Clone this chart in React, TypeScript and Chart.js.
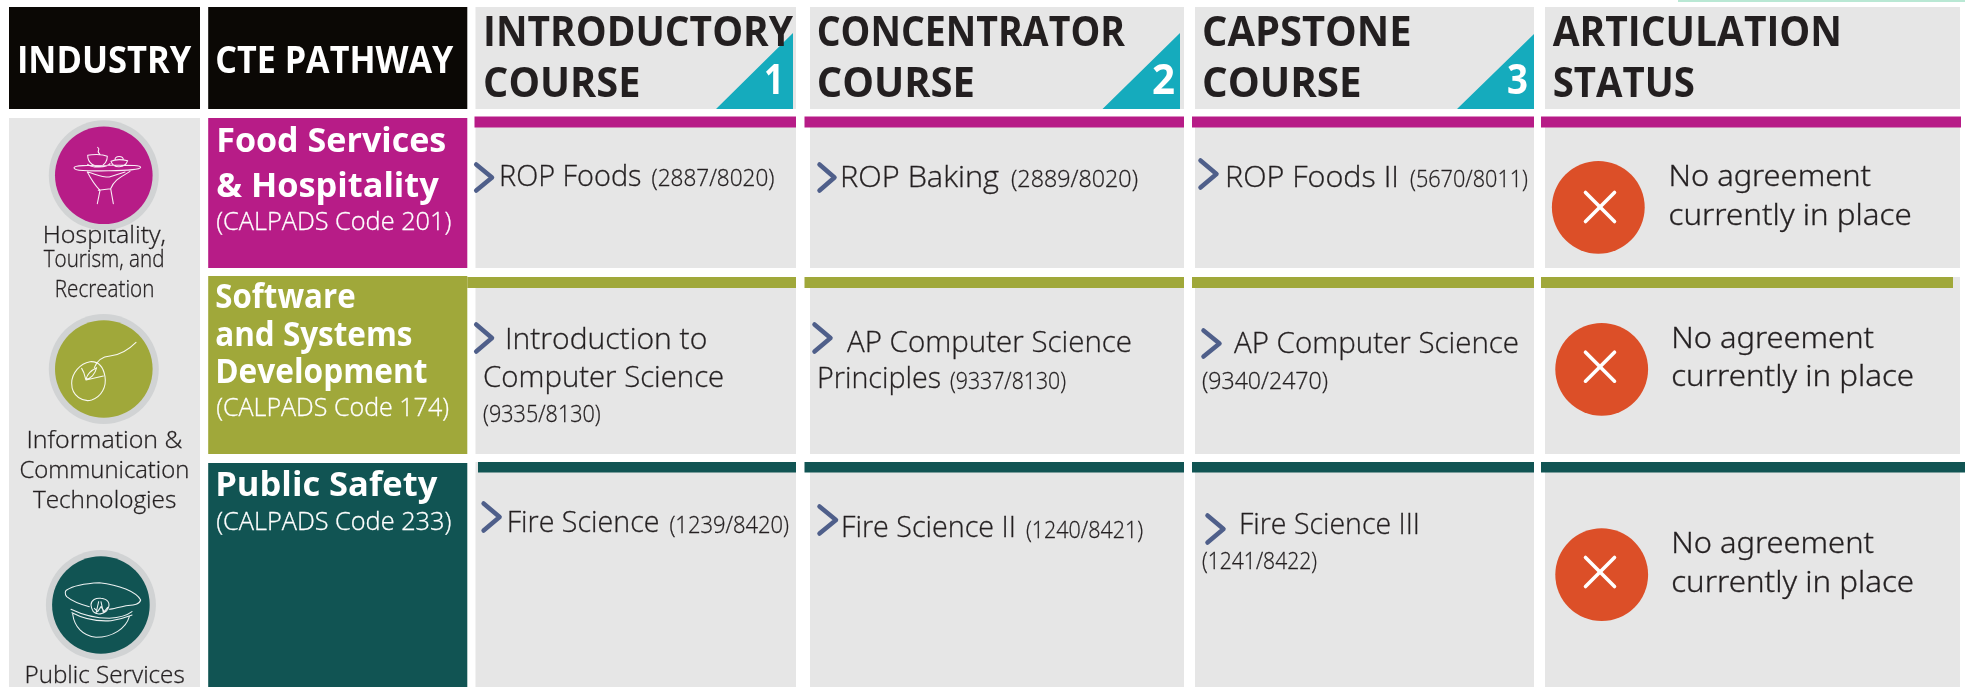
import React, { useEffect, useRef } from "react";
import { Chart, registerables } from "chart.js";

Chart.register(...registerables);

// ---------- content ----------
const headerSolid = ["INDUSTRY", "CTE PATHWAY"];
const headerCourse = [
  ["INTRODUCTORY", "COURSE"],
  ["CONCENTRATOR", "COURSE"],
  ["CAPSTONE", "COURSE"],
  ["ARTICULATION", "STATUS"],
];
const stepNumbers = ["1", "2", "3"];
const industries = [
  ["Hospitality,", "Tourism, and", "Recreation"],
  ["Information &", "Communication", "Technologies"],
  ["Public Services"],
];
const pathwayNames = [
  ["Food Services", "& Hospitality"],
  ["Software", "and Systems", "Development"],
  ["Public Safety"],
];
const pathwayCodes = ["(CALPADS Code 201)", "(CALPADS Code 174)", "(CALPADS Code 233)"];
const courseNames = [
  ["ROP Foods", "ROP Baking", "ROP Foods II"],
  ["Introduction to", "Computer Science", "AP Computer Science", "Principles", "AP Computer Science"],
  ["Fire Science", "Fire Science II", "Fire Science III"],
];
const courseCodes = [
  ["(2887/8020)", "(2889/8020)", "(5670/8011)"],
  ["(9335/8130)", "(9337/8130)", "(9340/2470)"],
  ["(1239/8420)", "(1240/8421)", "(1241/8422)"],
];
const statusLines = ["No agreement", "currently in place"];

// ---------- colours ----------
const GRAY = "#e6e6e6";
const BLACK = "#0b0805";
const INK = "#231f20";
const TEAL = "#15abbd";
const ORANGE = "#dc4f28";
const CHEVRON = "#4f5f8a";
const RING = "#d1d3d4";
const rowColors = ["#b71c87", "#a0a83a", "#115453"];

// ---------- layout ----------
const W = 1965;
const H = 687;
const headerY = [7, 109];
const colGray = [[475.5, 796], [810, 1184], [1195, 1534], [1545, 1960]];
const colBarX = [
  [[474.5, 796], [804.5, 1184], [1192, 1534], [1541, 1961]],
  [[467.3, 796], [804.5, 1184], [1192, 1534], [1541, 1953]],
  [[478, 796], [804.5, 1184], [1192, 1534], [1541, 1965]],
];
const rowGrayY = [[118, 268], [277, 454], [462, 687]];
const rowBarY = [[116.5, 127.5], [277, 288], [462, 472.5]];
const pathwayY = [[118, 268], [276, 454], [463, 687]];
const triangles = [[716, 793, 33], [1102.5, 1180, 33], [1457, 1534, 34]];
const chevrons = [
  [476.2, 492, 164.5, 190.5], [819.5, 834.5, 164.5, 190.5], [1200.5, 1216.5, 160.5, 187.5],
  [476.2, 492, 324.5, 351.5], [814.5, 830.5, 324.5, 351.5], [1203.5, 1219.5, 330.5, 356.5],
  [483.6, 499.6, 503.5, 530.5], [819.5, 836, 506.5, 533.5], [1207.5, 1223.5, 515.5, 542.5],
];
const statusCircles = [[1598.3, 207.3, 1600, 207], [1601.7, 369.3, 1600, 366.7], [1601.7, 574.7, 1600, 572]];
const industryCircles = [[103.8, 175.3], [103.8, 369], [100.9, 605]];

type P = { x: number; y: number };
const pts = (...a: number[][]): P[] => a.map(([x, y]) => ({ x, y }));
const rect = (x0: number, x1: number, y0: number, y1: number) =>
  pts([x0, y0], [x1, y0], [x1, y1], [x0, y1], [x0, y0]);

function buildDatasets() {
  const base = { showLine: true, pointRadius: 0, borderWidth: 0, tension: 0, clip: false as any };
  const poly = (data: P[], color: string) => ({
    ...base, data, backgroundColor: color, borderColor: color, fill: "shape",
  });
  const stroke = (data: P[], color: string, w: number) => ({
    ...base, data, borderColor: color, backgroundColor: color, borderWidth: w, fill: false,
    borderCapStyle: "round", borderJoinStyle: "round",
  });
  const dot = (x: number, y: number, r: number, color: string) => ({
    ...base, showLine: false, data: [{ x, y }], pointRadius: r, pointBackgroundColor: color,
    pointBorderWidth: 0, fill: false,
  });

  const ds: any[] = [];
  ds.push(poly(rect(1678, 1965, 0, 2), "#b9e8d4"));
  // headers
  ds.push(poly(rect(9, 200, headerY[0], headerY[1]), BLACK));
  ds.push(poly(rect(208.2, 467.3, headerY[0], headerY[1]), BLACK));
  colGray.forEach(([a, b]) => ds.push(poly(rect(a, b, headerY[0], headerY[1]), GRAY)));
  triangles.forEach(([a, b, top]) =>
    ds.push(poly(pts([a, headerY[1]], [b, top], [b, headerY[1]], [a, headerY[1]]), TEAL)));
  // industry column: its labels are painted right after it, below the rings
  ds.push({ ...poly(rect(9, 200, 118, 687), GRAY), industryLayer: true });
  // body rows
  rowGrayY.forEach(([y0, y1], r) => {
    ds.push(poly(rect(208.2, 467.3, pathwayY[r][0], pathwayY[r][1]), rowColors[r]));
    colGray.forEach(([a, b]) => ds.push(poly(rect(a, b, y0, y1), GRAY)));
  });
  rowBarY.forEach(([y0, y1], r) => {
    colBarX[r].forEach(([a, b]) => ds.push(poly(rect(a, b, y0, y1), rowColors[r])));
  });
  chevrons.forEach(([x0, x1, y0, y1]) =>
    ds.push(stroke(pts([x0, y0], [x1, (y0 + y1) / 2], [x0, y1]), CHEVRON, 4.5)));
  industryCircles.forEach(([x, y], r) => {
    ds.push(dot(x, y, 55, RING));
    ds.push(dot(x, y, 48.8, rowColors[r]));
  });
  statusCircles.forEach(([x, y, mx, my]) => {
    ds.push(dot(x, y, 46.4, ORANGE));
    ds.push(stroke(pts([mx - 14.5, my - 14.5], [mx + 14.5, my + 14.5]), "#ffffff", 3.6));
    ds.push(stroke(pts([mx + 14.5, my - 14.5], [mx - 14.5, my + 14.5]), "#ffffff", 3.6));
  });
  return ds.reverse(); // Chart.js paints dataset 0 last
}

// ---------- text placement: string, left, right, baseline, style ----------
type T = [string, number, number, number, string, string];
const bold = (s: number) => `700 ${s}px "Open Sans"`;
const lite = (s: number) => `300 ${s}px "Open Sans"`;
const noto = (s: number) => `300 ${s}px "Noto Sans"`;

const underTexts: T[] = [
  [industries[0][0], 42.8, 165.9, 243, lite(23), INK],
  [industries[0][1], 43.8, 164.4, 266.7, lite(23), INK],
  [industries[0][2], 54.8, 154.4, 296.7, lite(23), INK],
  [industries[1][0], 26.5, 182.3, 447.7, lite(23), INK],
  [industries[1][1], 19.4, 189.3, 477.7, lite(23), INK],
  [industries[1][2], 32.9, 176.3, 507.7, lite(23), INK],
  [industries[2][0], 24.5, 184.7, 682.7, lite(23), INK],
];

const overTexts: T[] = [
  [headerSolid[0], 16.9, 191.3, 73.3, bold(37), "#ffffff"],
  [headerSolid[1], 215.2, 453.3, 73.3, bold(37), "#ffffff"],
  [headerCourse[0][0], 483.1, 793, 46, bold(42), INK],
  [headerCourse[0][1], 483.1, 640.5, 96.7, bold(42), INK],
  [headerCourse[1][0], 816.7, 1125, 46, bold(42), INK],
  [headerCourse[1][1], 816.7, 975, 96.7, bold(42), INK],
  [headerCourse[2][0], 1202, 1411.6, 46, bold(42), INK],
  [headerCourse[2][1], 1202, 1361.6, 96.7, bold(42), INK],
  [headerCourse[3][0], 1552.7, 1842, 45.7, bold(42), INK],
  [headerCourse[3][1], 1552.7, 1695, 96.7, bold(42), INK],
  [stepNumbers[0], 764, 784, 94, bold(42), "#ffffff"],
  [stepNumbers[1], 1152, 1175, 94, bold(42), "#ffffff"],
  [stepNumbers[2], 1507, 1528, 94, bold(42), "#ffffff"],

  [pathwayNames[0][0], 216.2, 446.3, 152, bold(34), "#ffffff"],
  [pathwayNames[0][1], 216.2, 438.8, 196.7, bold(34), "#ffffff"],
  [pathwayCodes[0], 216.2, 451.3, 230, lite(25), "#ffffff"],
  [pathwayNames[1][0], 215.2, 355.6, 308.3, bold(34), "#ffffff"],
  [pathwayNames[1][1], 215.2, 412.4, 346, bold(34), "#ffffff"],
  [pathwayNames[1][2], 215.2, 427.4, 383.3, bold(34), "#ffffff"],
  [pathwayCodes[1], 216.2, 449, 416, lite(25), "#ffffff"],
  [pathwayNames[2][0], 215.2, 437.3, 496, bold(34), "#ffffff"],
  [pathwayCodes[2], 216.2, 451.3, 530, lite(25), "#ffffff"],

  [courseNames[0][0], 499.1, 641.5, 185.7, lite(29), INK],
  [courseCodes[0][0], 651.5, 774.5, 186, lite(23), INK],
  [courseNames[0][1], 840, 999, 186.7, lite(29), INK],
  [courseCodes[0][1], 1011, 1138, 186.7, lite(23), INK],
  [courseNames[0][2], 1225, 1399, 186.7, lite(29), INK],
  [courseCodes[0][2], 1410, 1528, 186.7, lite(23), INK],

  [courseNames[1][0], 505, 707.3, 349.3, lite(29), INK],
  [courseNames[1][1], 483.1, 724.2, 386.7, lite(29), INK],
  [courseCodes[1][0], 483.1, 600.7, 421.7, lite(23), INK],
  [courseNames[1][2], 847, 1132, 351.7, lite(29), INK],
  [courseNames[1][3], 817, 941, 388, lite(29), INK],
  [courseCodes[1][1], 950, 1066, 389, lite(23), INK],
  [courseNames[1][4], 1234, 1519, 353, lite(29), INK],
  [courseCodes[1][2], 1202, 1328, 389, lite(23), INK],

  [courseNames[2][0], 506.7, 659.5, 531.7, lite(29), INK],
  [courseCodes[2][0], 669.4, 789, 532.7, lite(23), INK],
  [courseNames[2][1], 841, 1016, 537, lite(29), INK],
  [courseCodes[2][1], 1026, 1143, 538, lite(23), INK],
  [courseNames[2][2], 1239, 1420, 534, lite(29), INK],
  [courseCodes[2][2], 1202, 1317, 569, lite(23), INK],

  [statusLines[0], 1668.5, 1871, 185.7, noto(29), INK],
  [statusLines[1], 1668.5, 1911.7, 225, noto(29), INK],
  [statusLines[0], 1671.2, 1874, 348.3, noto(29), INK],
  [statusLines[1], 1671.2, 1914, 386, noto(29), INK],
  [statusLines[0], 1671.2, 1874, 553.3, noto(29), INK],
  [statusLines[1], 1671.2, 1914, 591.7, noto(29), INK],
];

// ---------- line-art icons (SVG paths on a 330-unit tile of 110 chart units) ----------
const iconTiles: [number, number, string][] = [
  [50, 122,
    "M72 137 C72 130 110 130 175 130 C230 130 272 128 272 136 C272 144 230 145 175 146 C110 148 72 146 72 137 " +
    "M113 100 C113 125 135 135 150 133 C165 130 172 115 172 103 C155 95 125 97 113 100 " +
    "M113 127 C125 138 170 138 180 125 M150 97 C135 85 155 85 143 76 " +
    "M183 118 C190 140 225 140 233 116 C215 112 195 112 183 118 M195 113 C195 100 220 100 220 113 " +
    "M112 150 C125 175 135 190 150 205 M145 205 L182 200 M150 205 L142 245 M182 200 L190 245 " +
    "M240 148 C215 165 195 170 182 200 M112 150 C135 155 150 165 178 165 L225 150"],
  [50, 315,
    "M120 140 C90 145 65 175 65 205 C65 245 100 262 125 255 C155 245 170 215 165 185 C160 155 145 138 120 140 " +
    "M95 160 C105 175 105 190 108 195 L160 183 M108 192 C112 175 125 165 140 158 C135 178 122 192 108 192 " +
    "M133 158 C140 140 155 125 180 123 C210 120 235 105 258 82"],
  [46, 550,
    "M62 120 C80 108 120 100 160 98 C220 105 270 125 284 150 C280 165 260 165 240 167 C215 172 200 178 190 178 " +
    "M130 170 C110 165 80 155 62 140 C55 130 58 122 62 120 " +
    "M75 178 C110 195 150 205 190 205 C220 203 245 195 258 185 M78 188 C110 205 150 215 195 212 C225 208 245 200 258 195 " +
    "M80 192 C85 230 110 258 150 262 C200 262 240 235 250 200 " +
    "M135 165 C135 150 150 143 165 145 C185 147 195 160 185 178 C175 195 150 195 142 185 C138 178 135 172 135 165 " +
    "M145 175 L155 185 L165 170 L175 185 L185 172 M158 155 L150 190 M165 155 L172 188"],
];

function drawTexts(chart: any, list: T[]) {
  const { ctx, scales } = chart;
  ctx.save();
  ctx.textBaseline = "alphabetic";
  ctx.textAlign = "left";
  for (const [s, x0, x1, base, font, color] of list) {
    const px0 = scales.x.getPixelForValue(x0);
    const px1 = scales.x.getPixelForValue(x1);
    const py = scales.y.getPixelForValue(base);
    ctx.font = font;
    ctx.fillStyle = color;
    ctx.strokeStyle = color;
    const w = ctx.measureText(s).width || 1;
    ctx.save();
    ctx.translate(px0, py);
    ctx.scale((px1 - px0) / w, 1);
    if (font.startsWith("300")) {
      // the reference's thin type is a little darker than a pure light face
      ctx.lineWidth = 0.3;
      ctx.strokeText(s, 0, 0);
    }
    ctx.fillText(s, 0, 0);
    ctx.restore();
  }
  ctx.restore();
}

const tablePlugin = {
  id: "tableText",
  afterDatasetDraw(chart: any, args: any) {
    if (chart.data.datasets[args.index].industryLayer) drawTexts(chart, underTexts);
  },
  afterDatasetsDraw(chart: any) {
    const { ctx, scales } = chart;
    drawTexts(chart, overTexts);
    ctx.save();
    ctx.strokeStyle = "rgba(255,255,255,0.92)";
    ctx.lineCap = "round";
    ctx.lineJoin = "round";
    for (const [ox, oy, d] of iconTiles) {
      ctx.save();
      ctx.translate(scales.x.getPixelForValue(ox), scales.y.getPixelForValue(oy));
      ctx.scale(1 / 3, 1 / 3);
      ctx.lineWidth = 3.2;
      ctx.stroke(new Path2D(d));
      ctx.restore();
    }
    ctx.restore();
  },
};

export default function App() {
  const ref = useRef<HTMLCanvasElement>(null);
  useEffect(() => {
    const chart = new Chart(ref.current as HTMLCanvasElement, {
      type: "line",
      data: { datasets: buildDatasets() },
      options: {
        animation: false,
        responsive: false,
        devicePixelRatio: 1,
        layout: { padding: 0, autoPadding: false },
        parsing: { xAxisKey: "x", yAxisKey: "y" },
        scales: {
          x: { type: "linear", min: 0, max: W, display: false },
          y: { type: "linear", min: 0, max: H, reverse: true, display: false },
        },
        plugins: { legend: { display: false }, tooltip: { enabled: false }, title: { display: false } },
      },
      plugins: [tablePlugin],
    } as any);
    return () => chart.destroy();
  }, []);
  return (
    <canvas
      ref={ref}
      width={W}
      height={H}
      style={{ position: "absolute", left: 0, top: 0, display: "block", width: W, height: H, background: "#ffffff" }}
    />
  );
}
